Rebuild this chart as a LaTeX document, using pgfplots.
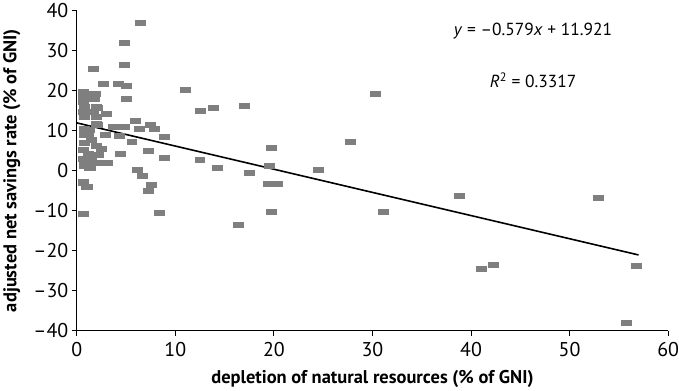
\documentclass[border=0pt]{standalone}
\usepackage{fontspec}
\setmainfont{PT Sans}
\usepackage{pgfplots}
\pgfplotsset{compat=1.18}
\definecolor{markgray}{HTML}{7F7F7F}
\begin{document}
\begin{tikzpicture}
\begin{axis}[
  scale only axis,
  width=593pt, height=321pt,
  xmin=0, xmax=60, ymin=-40, ymax=40,
  axis x line=bottom, axis y line=left,
  axis line style={-, line width=1pt},
  tick align=outside,
  major tick length=5pt,
  tick style={black, line width=1pt},
  xtick={0,10,...,60},
  ytick={-40,-30,...,40},
  yticklabels={–40,–30,–20,–10,0,10,20,30,40},
  ticklabel style={font=\fontsize{20}{22}\selectfont},
  xticklabel style={inner xsep=0pt, yshift=-3pt},
  /pgf/number format/assume math mode=true,
  xlabel={depletion of natural resources (\% of GNI)},
  ylabel={adjusted net savings rate (\% of GNI)},
  label style={font=\bfseries\fontsize{18.5}{21}\selectfont},
  xlabel style={yshift=-7pt},
  ylabel style={yshift=6pt},
  clip=false,
]
% countries
\addplot[only marks, color=markgray, mark=square*, mark size=2.5pt,
  mark options={xscale=2, draw=markgray, fill=markgray, line width=0pt}] coordinates {
(6.5,37) (4.8,31.9) (4.8,26.4) (1.7,25.4) (2.7,21.7) (4.2,21.7) (5.0,21.2)
(5.0,18.0) (1.8,18.0) (11.0,20.2) (12.6,14.9) (6.0,12.4) (7.5,11.4) (7.9,10.3)
(6.4,10.4) (4.8,10.9) (3.7,10.9) (2.1,11.4) (8.9,8.4) (2.9,8.9) (4.3,8.6)
(0.8,8.8) (3.0,14.2) (2.1,15.7) (30.3,19.2) (13.9,15.7) (17.0,16.2) (27.8,7.2)
(19.8,5.7) (12.5,2.7) (14.3,0.7) (17.5,-0.6) (19.6,1.2) (24.5,0.2) (19.4,-3.3)
(20.4,-3.3) (19.8,-10.3) (16.4,-13.6) (31.1,-10.3) (38.8,-6.3) (52.9,-6.8)
(41.1,-24.6) (42.3,-23.6) (56.8,-23.8) (55.8,-38.1)
(1.3,10.1) (5.6,7.2) (7.3,4.9) (8.9,3.2) (4.4,4.2) (3.1,1.9) (1.9,1.9)
(6.2,0.2) (6.7,-1.3) (7.6,-3.6) (7.3,-5.1) (8.4,-10.6) (0.7,-10.8) (0.7,-3.1)
(1.1,-4.1) (0.8,1.2) (1.4,0.7) (0.7,19.7) (1.0,19.2) (0.7,18.4) (1.9,19.2)
(0.7,17.2) (2.0,15.9) (0.8,15.9) (0.7,14.7) (1.7,14.7) (0.8,13.4) (2.0,13.4)
(2.0,11.7) (0.8,10.5) (1.2,9.2) (1.5,7.6) (0.8,6.8) (2.0,6.2) (2.5,5.3)
(0.7,5.1) (1.2,4.2) (2.2,4.0) (0.7,3.0) (1.5,2.8) (3.0,1.9) (0.8,1.3)
(1.3,0.7) (0.7,-2.8) (1.0,-4.1)
};
% linear trend
\addplot[black, line width=1.6pt, no marks] coordinates {(0,11.921) (57,-21.082)};
\node[font=\fontsize{17.5}{20}\selectfont] at (axis cs:46.3,34.8)
  {\textit{y} = –0.579\textit{x} + 11.921};
\node[font=\fontsize{17.5}{20}\selectfont] at (axis cs:46.3,22.5)
  {\textit{R}\textsuperscript{2} = 0.3317};
\end{axis}
\end{tikzpicture}
\end{document}
